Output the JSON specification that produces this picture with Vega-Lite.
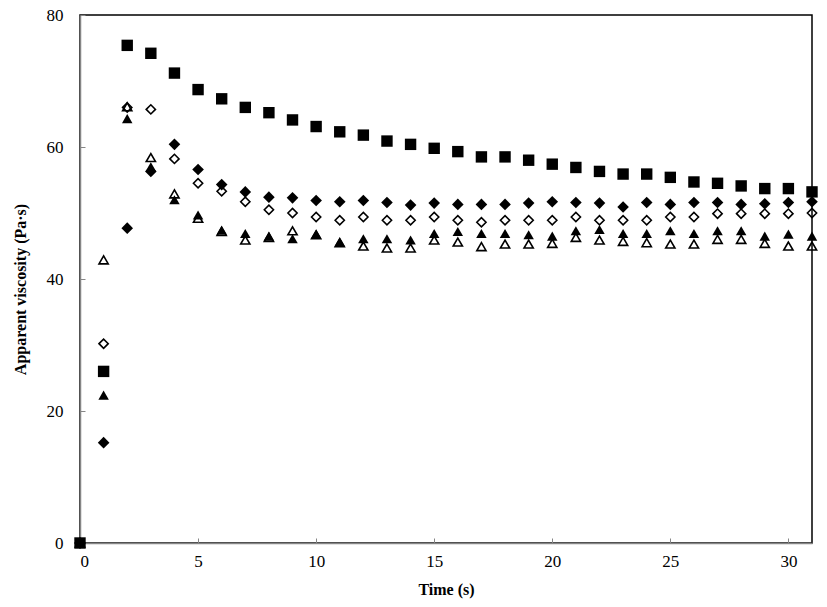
{
  "$schema": "https://vega.github.io/schema/vega-lite/v6.json",
  "width": 732,
  "height": 528,
  "autosize": {"type": "none"},
  "padding": {"left": 80, "top": 15, "right": 15, "bottom": 64},
  "background": "white",
  "config": {
    "view": {"stroke": "black", "strokeWidth": 1.5},
    "axis": {
      "grid": false,
      "domainColor": "#868686",
      "domainWidth": 1.5,
      "tickColor": "#868686",
      "tickWidth": 1,
      "tickSize": -5,
      "labelFont": "Liberation Serif",
      "labelFontSize": 17,
      "labelColor": "black",
      "titleFont": "Liberation Serif",
      "titleFontSize": 16,
      "titleFontWeight": "bold",
      "titleColor": "black"
    }
  },
  "data": {
    "values": [
      {"t":0,"s":"S","v":0},{"t":1,"s":"S","v":26.0},{"t":2,"s":"S","v":75.4},{"t":3,"s":"S","v":74.2},{"t":4,"s":"S","v":71.2},{"t":5,"s":"S","v":68.7},{"t":6,"s":"S","v":67.3},{"t":7,"s":"S","v":66.0},{"t":8,"s":"S","v":65.2},{"t":9,"s":"S","v":64.1},{"t":10,"s":"S","v":63.1},{"t":11,"s":"S","v":62.3},{"t":12,"s":"S","v":61.8},{"t":13,"s":"S","v":60.9},{"t":14,"s":"S","v":60.4},{"t":15,"s":"S","v":59.8},{"t":16,"s":"S","v":59.3},{"t":17,"s":"S","v":58.5},{"t":18,"s":"S","v":58.5},{"t":19,"s":"S","v":58.0},{"t":20,"s":"S","v":57.4},{"t":21,"s":"S","v":56.9},{"t":22,"s":"S","v":56.3},{"t":23,"s":"S","v":55.9},{"t":24,"s":"S","v":55.9},{"t":25,"s":"S","v":55.4},{"t":26,"s":"S","v":54.7},{"t":27,"s":"S","v":54.5},{"t":28,"s":"S","v":54.1},{"t":29,"s":"S","v":53.7},{"t":30,"s":"S","v":53.7},{"t":31,"s":"S","v":53.2},
      {"t":0,"s":"FD","v":0},{"t":1,"s":"FD","v":15.2},{"t":2,"s":"FD","v":47.7},{"t":3,"s":"FD","v":56.3},{"t":4,"s":"FD","v":60.4},{"t":5,"s":"FD","v":56.6},{"t":6,"s":"FD","v":54.3},{"t":7,"s":"FD","v":53.2},{"t":8,"s":"FD","v":52.4},{"t":9,"s":"FD","v":52.3},{"t":10,"s":"FD","v":51.9},{"t":11,"s":"FD","v":51.7},{"t":12,"s":"FD","v":51.9},{"t":13,"s":"FD","v":51.6},{"t":14,"s":"FD","v":51.2},{"t":15,"s":"FD","v":51.5},{"t":16,"s":"FD","v":51.3},{"t":17,"s":"FD","v":51.3},{"t":18,"s":"FD","v":51.3},{"t":19,"s":"FD","v":51.5},{"t":20,"s":"FD","v":51.7},{"t":21,"s":"FD","v":51.6},{"t":22,"s":"FD","v":51.5},{"t":23,"s":"FD","v":50.9},{"t":24,"s":"FD","v":51.6},{"t":25,"s":"FD","v":51.3},{"t":26,"s":"FD","v":51.6},{"t":27,"s":"FD","v":51.6},{"t":28,"s":"FD","v":51.3},{"t":29,"s":"FD","v":51.4},{"t":30,"s":"FD","v":51.6},{"t":31,"s":"FD","v":51.7},
      {"t":0,"s":"OD","v":0},{"t":1,"s":"OD","v":30.2},{"t":2,"s":"OD","v":66.0},{"t":3,"s":"OD","v":65.7},{"t":4,"s":"OD","v":58.2},{"t":5,"s":"OD","v":54.5},{"t":6,"s":"OD","v":53.3},{"t":7,"s":"OD","v":51.7},{"t":8,"s":"OD","v":50.5},{"t":9,"s":"OD","v":50.0},{"t":10,"s":"OD","v":49.4},{"t":11,"s":"OD","v":48.9},{"t":12,"s":"OD","v":49.4},{"t":13,"s":"OD","v":48.9},{"t":14,"s":"OD","v":48.9},{"t":15,"s":"OD","v":49.4},{"t":16,"s":"OD","v":48.9},{"t":17,"s":"OD","v":48.6},{"t":18,"s":"OD","v":48.9},{"t":19,"s":"OD","v":48.9},{"t":20,"s":"OD","v":48.9},{"t":21,"s":"OD","v":49.4},{"t":22,"s":"OD","v":48.9},{"t":23,"s":"OD","v":48.9},{"t":24,"s":"OD","v":48.9},{"t":25,"s":"OD","v":49.4},{"t":26,"s":"OD","v":49.4},{"t":27,"s":"OD","v":49.9},{"t":28,"s":"OD","v":49.9},{"t":29,"s":"OD","v":49.9},{"t":30,"s":"OD","v":49.9},{"t":31,"s":"OD","v":50.0},
      {"t":0,"s":"FT","v":0},{"t":1,"s":"FT","v":22.4},{"t":2,"s":"FT","v":64.3},{"t":3,"s":"FT","v":57.0},{"t":4,"s":"FT","v":52.0},{"t":5,"s":"FT","v":49.7},{"t":6,"s":"FT","v":47.4},{"t":7,"s":"FT","v":46.9},{"t":8,"s":"FT","v":46.5},{"t":9,"s":"FT","v":46.1},{"t":10,"s":"FT","v":46.8},{"t":11,"s":"FT","v":45.6},{"t":12,"s":"FT","v":46.1},{"t":13,"s":"FT","v":46.1},{"t":14,"s":"FT","v":45.9},{"t":15,"s":"FT","v":46.9},{"t":16,"s":"FT","v":47.2},{"t":17,"s":"FT","v":46.9},{"t":18,"s":"FT","v":46.9},{"t":19,"s":"FT","v":46.7},{"t":20,"s":"FT","v":46.5},{"t":21,"s":"FT","v":47.3},{"t":22,"s":"FT","v":47.5},{"t":23,"s":"FT","v":46.9},{"t":24,"s":"FT","v":46.9},{"t":25,"s":"FT","v":47.3},{"t":26,"s":"FT","v":46.9},{"t":27,"s":"FT","v":47.3},{"t":28,"s":"FT","v":47.3},{"t":29,"s":"FT","v":46.5},{"t":30,"s":"FT","v":46.8},{"t":31,"s":"FT","v":46.5},
      {"t":0,"s":"OT","v":0},{"t":1,"s":"OT","v":42.9},{"t":2,"s":"OT","v":66.1},{"t":3,"s":"OT","v":58.4},{"t":4,"s":"OT","v":52.9},{"t":5,"s":"OT","v":49.2},{"t":6,"s":"OT","v":47.2},{"t":7,"s":"OT","v":45.9},{"t":8,"s":"OT","v":46.3},{"t":9,"s":"OT","v":47.3},{"t":10,"s":"OT","v":46.7},{"t":11,"s":"OT","v":45.5},{"t":12,"s":"OT","v":45.0},{"t":13,"s":"OT","v":44.7},{"t":14,"s":"OT","v":44.7},{"t":15,"s":"OT","v":45.9},{"t":16,"s":"OT","v":45.6},{"t":17,"s":"OT","v":44.9},{"t":18,"s":"OT","v":45.3},{"t":19,"s":"OT","v":45.3},{"t":20,"s":"OT","v":45.4},{"t":21,"s":"OT","v":46.3},{"t":22,"s":"OT","v":45.9},{"t":23,"s":"OT","v":45.7},{"t":24,"s":"OT","v":45.5},{"t":25,"s":"OT","v":45.3},{"t":26,"s":"OT","v":45.3},{"t":27,"s":"OT","v":46.0},{"t":28,"s":"OT","v":46.0},{"t":29,"s":"OT","v":45.4},{"t":30,"s":"OT","v":45.0},{"t":31,"s":"OT","v":45.0}
    ]
  },
  "encoding": {
    "x": {
      "field": "t", "type": "quantitative",
      "scale": {"domain": [0, 31], "nice": false, "zero": false},
      "axis": {"values": [0, 5, 10, 15, 20, 25, 30], "title": "Time (s)", "labelPadding": 15, "titlePadding": 12}
    },
    "y": {
      "field": "v", "type": "quantitative",
      "scale": {"domain": [0, 80], "nice": false},
      "axis": {"values": [0, 20, 40, 60, 80], "title": "Apparent viscosity (Pa·s)", "labelPadding": 22, "titlePadding": 18, "titleY": 274}
    }
  },
  "layer": [
    {
      "transform": [{"filter": "datum.s === 'OT'"}],
      "mark": {"type": "point", "shape": "triangle-up", "filled": false, "stroke": "black", "strokeWidth": 1.6, "size": 85, "opacity": 1}
    },
    {
      "transform": [{"filter": "datum.s === 'OD'"}],
      "mark": {"type": "point", "shape": "diamond", "filled": false, "stroke": "black", "strokeWidth": 1.6, "size": 85, "opacity": 1}
    },
    {
      "transform": [{"filter": "datum.s === 'FT'"}],
      "mark": {"type": "point", "shape": "triangle-up", "filled": true, "fill": "black", "size": 110, "opacity": 1}
    },
    {
      "transform": [{"filter": "datum.s === 'FD'"}],
      "mark": {"type": "point", "shape": "diamond", "filled": true, "fill": "black", "size": 135, "opacity": 1}
    },
    {
      "transform": [{"filter": "datum.s === 'S'"}],
      "mark": {"type": "point", "shape": "square", "filled": true, "fill": "black", "size": 130, "opacity": 1}
    }
  ]
}
